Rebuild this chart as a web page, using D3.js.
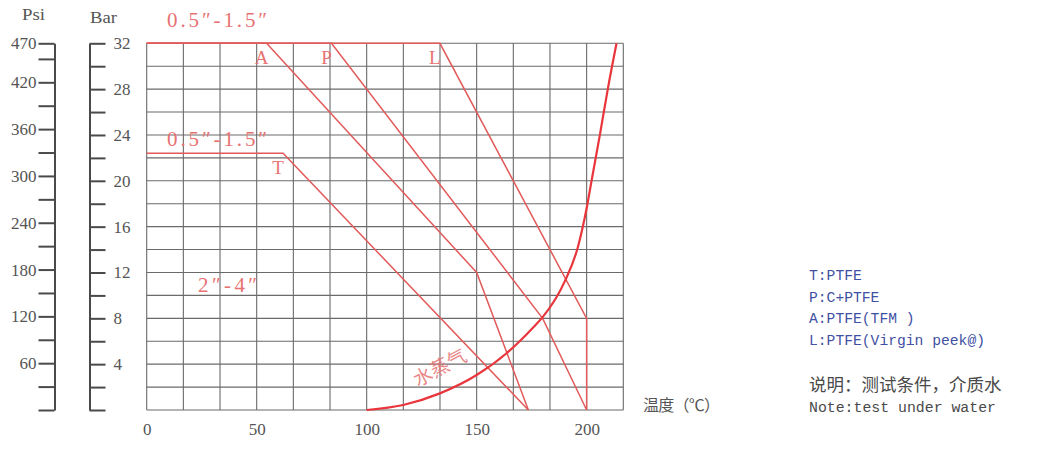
<!DOCTYPE html>
<html><head><meta charset="utf-8">
<script src="https://cdn.jsdelivr.net/npm/d3@7"></script>
<style>
html,body{margin:0;padding:0;background:#fff;}
svg{display:block;}
</style></head>
<body>
<svg id="chart" width="1040" height="452"></svg>
<script>
// ---- data ----
const xTickValues = [0, 50, 100, 150, 200];
const barTickValues = [0,2,4,6,8,10,12,14,16,18,20,22,24,26,28,30,32];
const barLabelValues = [4,8,12,16,20,24,28,32];
const psiTickValues = [0,30,60,90,120,150,180,210,240,270,300,330,360,390,420,450,470];
const psiLabelValues = [60,120,180,240,300,360,420,470];

const seriesNames = ["A","P","L","T"];
const seriesA_temp = [0, 54.5, 150, 173.5];
const seriesA_bar  = [32, 32, 12, 0];
const seriesP_temp = [0, 84, 180, 200];
const seriesP_bar  = [32, 32, 8, 0];
const seriesL_temp = [0, 133.3, 200, 200];
const seriesL_bar  = [32, 32, 8, 0];
const seriesT_temp = [0, 62, 173.5];
const seriesT_bar  = [22.4, 22.4, 0];

const steamTemp = [100, 116.6, 133.3, 150, 163.6, 175.7, 180, 190, 196, 200, 202.3, 206.1, 209.8, 213.6];
const steamBar  = [0, 0.44, 1.45, 3.05, 4.95, 7.2, 8.1, 11.2, 14.2, 17.6, 20.07, 24.1, 28.2, 32];

const legendLines = ["T:PTFE", "P:C+PTFE", "A:PTFE(TFM )", "L:PTFE(Virgin peek@)"];
const noteLines = ["说明：测试条件，介质水", "Note:test under water"];

// ---- layout ----
const svg = d3.select("#chart");
svg.append("rect").attr("width",1040).attr("height",452).attr("fill","#fff");

const x = d3.scaleLinear().domain([0, 650/3]).range([146.7, 623.3]);
const y = d3.scaleLinear().domain([0, 32]).range([410, 43.3]);
const psi = d3.scaleLinear().domain([0, 470]).range([410, 43.3]);

const lineRed = "#e25a5a";
const textRed = "#e77272";
const gridCol = "#6a6a6a";
const axisCol = "#4a4a4a";
const serif = "'Liberation Serif', 'DejaVu Serif', serif";
const mono = "'Liberation Mono', 'DejaVu Sans Mono', monospace";
const cjk = "'Noto Sans CJK SC', sans-serif";

// grid
const g = svg.append("g");
const xGrid = d3.range(0, 13.5).map(i => i * 50/3);
const yGrid = d3.range(0, 33, 2);
g.selectAll("line.v").data(xGrid).enter().append("line")
  .attr("x1", d => x(d)).attr("x2", d => x(d))
  .attr("y1", y(0)).attr("y2", y(32))
  .attr("stroke", gridCol).attr("stroke-width", 1.1);
g.selectAll("line.h").data(yGrid).enter().append("line")
  .attr("x1", x(0)).attr("x2", x(650/3))
  .attr("y1", d => y(d)).attr("y2", d => y(d))
  .attr("stroke", gridCol).attr("stroke-width", 1.1);

// x axis labels
const xAxis = d3.axisBottom(x).tickValues(xTickValues).tickSize(0).tickPadding(13);
const xg = svg.append("g").attr("transform", `translate(0,${y(0)})`).call(xAxis);
xg.select(".domain").remove();
xg.selectAll("text").attr("font-family", serif).attr("font-size", 17).attr("fill", "#555");

// bar axis
const barAxis = d3.axisRight(y).tickValues(barTickValues).tickSize(16).tickSizeOuter(0).tickPadding(8)
  .tickFormat(d => barLabelValues.includes(d) ? d : "");
const bg = svg.append("g").attr("transform", "translate(89.5,0)").call(barAxis);
bg.select(".domain").attr("stroke", axisCol).attr("stroke-width", 2);
bg.selectAll(".tick line").attr("stroke", axisCol).attr("stroke-width", 2);
bg.selectAll("text").attr("font-family", serif).attr("font-size", 17).attr("fill", "#555");

// psi axis
const psiAxis = d3.axisLeft(psi).tickValues(psiTickValues).tickSize(16).tickSizeOuter(0).tickPadding(2)
  .tickFormat(d => psiLabelValues.includes(d) ? d : "");
const pg = svg.append("g").attr("transform", "translate(54.5,0)").call(psiAxis);
pg.select(".domain").attr("stroke", axisCol).attr("stroke-width", 2);
pg.selectAll(".tick line").attr("stroke", axisCol).attr("stroke-width", 2);
pg.selectAll("text").attr("font-family", serif).attr("font-size", 17).attr("fill", "#555");

// axis titles
svg.append("text").attr("x", 22).attr("y", 20).attr("font-family", serif).attr("font-size", 17.5)
  .attr("fill", "#555").attr("textLength", 23).attr("lengthAdjust", "spacingAndGlyphs").text("Psi");
svg.append("text").attr("x", 90).attr("y", 23).attr("font-family", serif).attr("font-size", 17.5)
  .attr("fill", "#555").attr("textLength", 27).attr("lengthAdjust", "spacingAndGlyphs").text("Bar");
svg.append("text").attr("x", 643).attr("y", 411).attr("font-family", cjk).attr("font-size", 16)
  .attr("fill", "#555").attr("textLength", 77).attr("lengthAdjust", "spacing").text("温度（℃）");

// series lines
const seriesData = {
  A: seriesA_temp.map((t,i) => [t, seriesA_bar[i]]),
  P: seriesP_temp.map((t,i) => [t, seriesP_bar[i]]),
  L: seriesL_temp.map((t,i) => [t, seriesL_bar[i]]),
  T: seriesT_temp.map((t,i) => [t, seriesT_bar[i]])
};
const line = d3.line().x(d => x(d[0])).y(d => y(d[1]));
seriesNames.forEach(n => {
  svg.append("path").attr("d", line(seriesData[n])).attr("fill", "none")
    .attr("stroke", lineRed).attr("stroke-width", 1.5);
});

// steam curve
const steam = steamTemp.map((t,i) => [t, steamBar[i]]);
const steamLine = d3.line().x(d => x(d[0])).y(d => y(d[1])).curve(d3.curveMonotoneX);
svg.append("path").attr("d", steamLine(steam)).attr("fill", "none")
  .attr("stroke", "#e8363c").attr("stroke-width", 2.2);

// series letters
const letterPos = {A: [seriesA_temp[1], 32], P: [seriesP_temp[1], 32], L: [seriesL_temp[1], 32], T: [seriesT_temp[1], 22.4]};
svg.selectAll("text.letter").data(seriesNames).enter().append("text")
  .attr("x", d => x(letterPos[d][0]) - 5)
  .attr("y", d => y(letterPos[d][1]) + 21)
  .attr("text-anchor", "middle")
  .attr("font-family", serif).attr("font-size", 19).attr("fill", textRed)
  .text(d => d);

// size labels
function sizeLabel(xp, yp, txt, len) {
  svg.append("text").attr("x", xp).attr("y", yp).attr("font-family", serif).attr("font-size", 21)
    .attr("fill", textRed).attr("textLength", len).attr("lengthAdjust", "spacing").text(txt);
}
sizeLabel(167, 27, "0.5″-1.5″", 100);
sizeLabel(167, 146, "0.5″-1.5″", 100);
sizeLabel(198, 292, "2″-4″", 59);

// steam label
svg.append("text").attr("transform", "translate(439,366) rotate(-28)")
  .attr("text-anchor", "middle").attr("dominant-baseline", "central")
  .attr("font-family", cjk).attr("font-size", 19).attr("fill", textRed).attr("opacity", 0.85)
  .text("水蒸气");

// legend
svg.selectAll("text.leg").data(legendLines).enter().append("text")
  .attr("x", 809).attr("y", (d,i) => 280 + i * 21.5)
  .attr("font-family", mono).attr("font-size", 15.5).attr("fill", "#3f51a3")
  .attr("textLength", d => d.length * 8.8).attr("lengthAdjust", "spacingAndGlyphs")
  .text(d => d);
svg.append("text").attr("x", 809).attr("y", 391).attr("font-family", cjk).attr("font-size", 17.5)
  .attr("fill", "#4a4a4a").text(noteLines[0]);
svg.append("text").attr("x", 809).attr("y", 412).attr("font-family", mono).attr("font-size", 15.5)
  .attr("fill", "#4a4a4a").attr("textLength", 187).attr("lengthAdjust", "spacingAndGlyphs").text(noteLines[1]);
</script>
</body></html>
